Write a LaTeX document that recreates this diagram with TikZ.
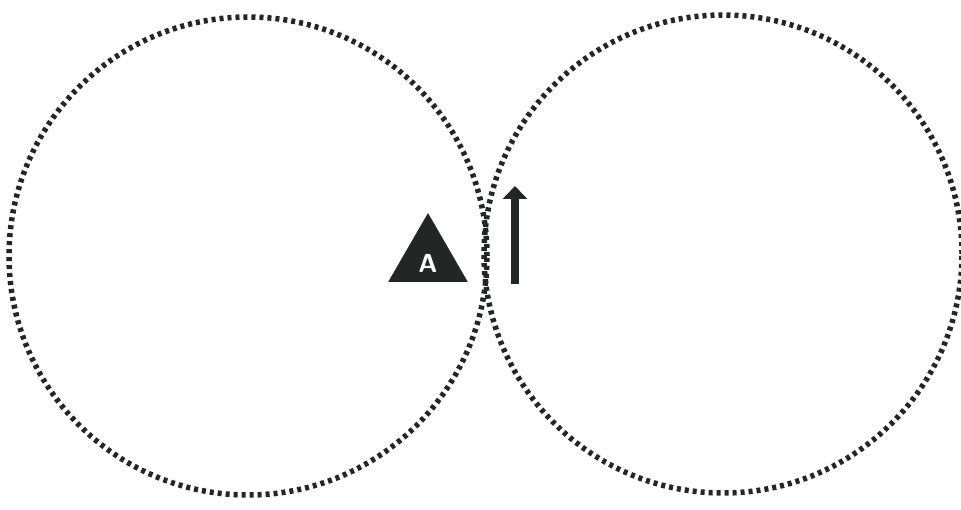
\documentclass[tikz,border=0pt]{standalone}
\usetikzlibrary{shapes.geometric,arrows.meta}
\definecolor{inkgray}{RGB}{36,38,38}

\begin{document}
\begin{tikzpicture}[
    x=1pt, y=-1pt,
    zone/.style={circle, draw=inkgray, line width=5.5pt,
        dash pattern=on 4pt off 4pt, minimum size=478pt, inner sep=0pt},
    marker/.style={regular polygon, regular polygon sides=3, fill=inkgray,
        minimum size=92pt, inner sep=0pt},
    pointer/.style={draw=inkgray, line width=8pt,
        -{Triangle[width=24pt,length=13pt]}}
]
    \useasboundingbox (0,0) rectangle (961,510);

    % Zones
    \node[zone] (leftzone)  at (248, 256) {};
    \node[zone] (rightzone) at (723, 254) {};

    % Marker A
    \node[marker] (marker) at (428, 259) {};
    \node[text=white, font=\fontsize{26}{28}\selectfont\sffamily\bfseries]
        (markerlabel) at (428, 263) {A};

    % Direction arrow
    \coordinate (arrowtail) at (515, 284);
    \coordinate (arrowhead) at (515, 186);
    \draw[pointer] (arrowtail) -- (arrowhead);

\end{tikzpicture}
\end{document}
